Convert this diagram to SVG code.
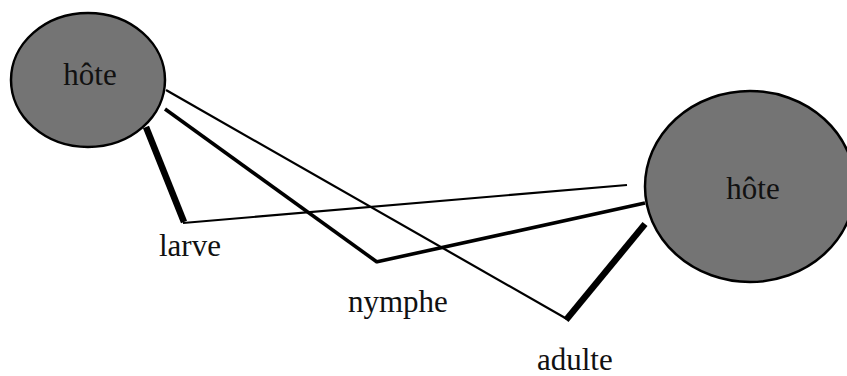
<svg xmlns="http://www.w3.org/2000/svg" width="847" height="376" viewBox="0 0 847 376">
  <style>
    .host { fill: #747474; stroke: #000; stroke-width: 2.5; }
    .lbl { font-family: "Liberation Serif", "Times New Roman", serif; font-size: 31px; fill: #111; }
    .c { fill: none; stroke: #000; stroke-linecap: butt; stroke-linejoin: miter; }
    .thin { stroke-width: 2.2; }
    .mid { stroke-width: 3.6; }
    .thick { stroke-width: 6.5; }
  </style>
  <rect width="847" height="376" fill="#fff"/>
  <g id="connectors">
    <!-- larve -->
    <line class="c thick" x1="146" y1="127" x2="184" y2="222"/>
    <line class="c thin" x1="183" y1="223" x2="627" y2="185"/>
    <!-- nymphe -->
    <line class="c mid" x1="165" y1="109" x2="377" y2="262"/>
    <line class="c mid" x1="376" y1="262" x2="645" y2="203"/>
    <!-- adulte -->
    <line class="c thin" x1="166" y1="90" x2="567" y2="319"/>
    <line class="c thick" x1="566" y1="320" x2="645" y2="224"/>
  </g>
  <g id="host-left">
    <ellipse class="host" cx="88" cy="80" rx="77" ry="67"/>
    <text class="lbl" x="90" y="85" text-anchor="middle">hôte</text>
  </g>
  <g id="host-right">
    <ellipse class="host" cx="750" cy="186.5" rx="105" ry="95.5"/>
    <text class="lbl" x="753" y="199" text-anchor="middle">hôte</text>
  </g>
  <g id="label-larve">
    <text class="lbl" x="159" y="256">larve</text>
  </g>
  <g id="label-nymphe">
    <text class="lbl" x="348" y="312">nymphe</text>
  </g>
  <g id="label-adulte">
    <text class="lbl" x="537" y="370">adulte</text>
  </g>
</svg>
